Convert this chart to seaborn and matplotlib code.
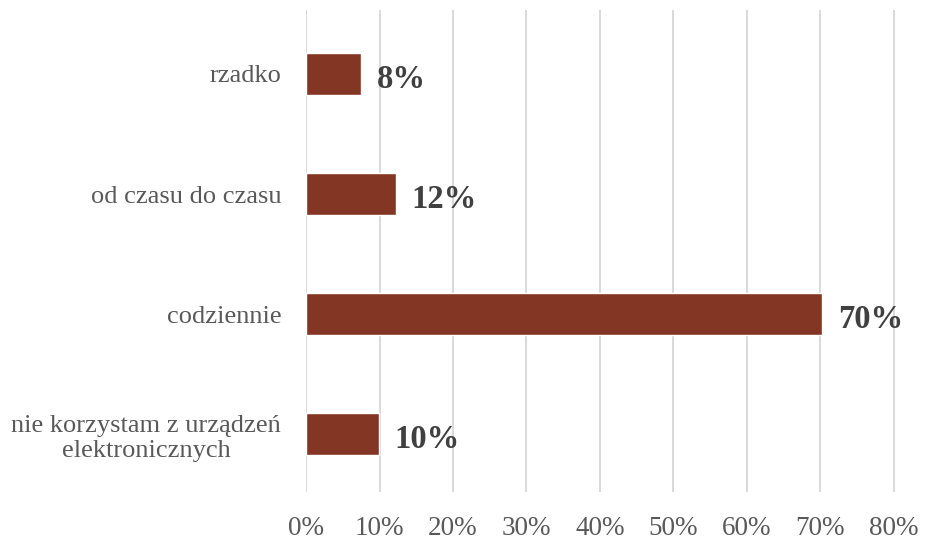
"""
Wykres słupkowy poziomy - częstotliwość korzystania z urządzeń elektronicznych
"""

import matplotlib.pyplot as plt
import numpy as np
import pandas as pd
import seaborn as sns
from matplotlib.ticker import FuncFormatter

# dane
categories = ['rzadko', 'od czasu do czasu', 'codziennie',
              'nie korzystam z urządzeń\nelektronicznych']
values = [7.5, 12.3, 70.3, 9.9]
value_labels = ['8%', '12%', '70%', '10%']
x_ticks = [0, 10, 20, 30, 40, 50, 60, 70, 80]

sns.set_theme(style='white')
plt.rcParams['font.family'] = ['Liberation Serif', 'DejaVu Serif']

df = pd.DataFrame({'kategoria': categories, 'procent': values})

fig = plt.figure(figsize=(9.25, 5.4), dpi=100)
ax = fig.add_axes([0.331, 0.089, 0.639, 0.892])

sns.barplot(data=df, x='procent', y='kategoria', orient='h',
            color='#843624', saturation=1, width=0.35, ax=ax, zorder=3)

# etykiety wartości
for patch, lab in zip(ax.patches, value_labels):
    ax.annotate(lab, (patch.get_width(), patch.get_y() + patch.get_height() / 2),
                xytext=(11, -1.5), textcoords='offset points', va='center_baseline',
                ha='left', fontsize=23.5, fontweight='bold', color='#404040')

ax.set_xlim(0, 80.5)
ax.set_ylim(3.48, -0.53)
ax.set_xticks(x_ticks)
ax.xaxis.set_major_formatter(FuncFormatter(lambda v, p: f'{v:.0f}%'))
ax.grid(axis='x', color='#d9d9d9', linewidth=1.4, zorder=0)
ax.grid(axis='y', visible=False)
for s in ax.spines.values():
    s.set_visible(False)

ax.set_xlabel('')
ax.set_ylabel('')
ax.tick_params(axis='x', labelsize=19.5, colors='#595959', pad=17, length=0)
ax.tick_params(axis='y', labelsize=19, colors='#595959', pad=18, length=0)
for t in ax.get_yticklabels():
    t.set_multialignment('center')

plt.savefig('out.png', dpi=100)
plt.close()
